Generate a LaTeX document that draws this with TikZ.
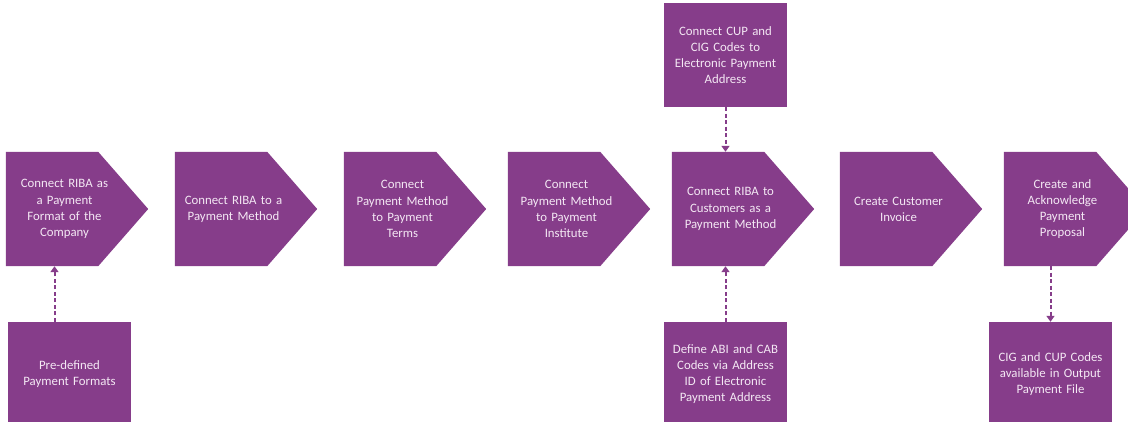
\documentclass[tikz,border=0pt]{standalone}
\usepackage{fontspec}
\setsansfont{Carlito}
\usepackage{tikz}
\usetikzlibrary{arrows.meta}
\definecolor{ribapurple}{HTML}{863D8A}
\definecolor{ribatext}{HTML}{F4E8F4}
\pgfdeclarelayer{background}
\pgfsetlayers{background,main}

\begin{document}
\begin{tikzpicture}[x=1pt, y=-1pt, font=\sffamily\fontsize{12.8}{16.2}\selectfont]
	\tikzset{procstep/.style={minimum width=117pt, minimum height=114pt, inner sep=0pt, text width=112pt, align=center, text=ribatext},
		infobox/.style={fill=ribapurple, minimum width=123pt, minimum height=104pt, inner sep=0pt, text width=120pt, align=center, text=ribatext},
		link/.style={ribapurple, line width=2pt, dash pattern=on 4pt off 2.5pt, -{Triangle[length=6pt, width=8pt]}}}
	\useasboundingbox (0,0) rectangle (1128,421);
	\clip (0,0) rectangle (1128,421);
	% main process steps
	\node[procstep] (p1) at (64.5,209) {Connect RIBA as\\a Payment\\Format of the\\Company};
	\node[procstep] (p2) at (233.5,209) {Connect RIBA to a\\Payment Method};
	\node[procstep] (p3) at (402.5,209) {Connect\\Payment Method\\to Payment\\Terms};
	\node[procstep] (p4) at (566.5,209) {Connect\\Payment Method\\to Payment\\Institute};
	\node[procstep] (p5) at (730.5,209) {Connect RIBA to\\Customers as a\\Payment Method};
	\node[procstep] (p6) at (898.5,209) {Create Customer\\Invoice};
	\node[procstep] (p7) at (1062.5,209) {Create and\\Acknowledge\\Payment\\Proposal};
	\begin{pgfonlayer}{background}
		\foreach \n in {p1,p2,p3,p4,p5,p6,p7}
			\fill[ribapurple] (\n.north west) -- ([xshift=-25pt]\n.north east) -- ([xshift=25pt]\n.east) -- ([xshift=-25pt]\n.south east) -- (\n.south west) -- cycle;
	\end{pgfonlayer}
	% side boxes
	\node[infobox] (t5) at (725.5,55) {Connect CUP and\\CIG Codes to\\Electronic Payment\\Address};
	\node[infobox] (b1) at (69.5,374) {Pre-defined\\Payment Formats};
	\node[infobox] (b5) at (725.5,374) {Define ABI and CAB\\Codes via Address\\ID of Electronic\\Payment Address};
	\node[infobox] (b7) at (1050.5,374) {CIG and CUP Codes\\available in Output\\Payment File};
	% dashed links
	\draw[link] ([xshift=-10pt]p1.south |- b1.north) -- ([xshift=-10pt]p1.south);
	\draw[link] (t5.south) -- (t5.south |- p5.north);
	\draw[link] (b5.north) -- (b5.north |- p5.south);
	\draw[link] (b7.north |- p7.south) -- (b7.north);
\end{tikzpicture}
\end{document}
